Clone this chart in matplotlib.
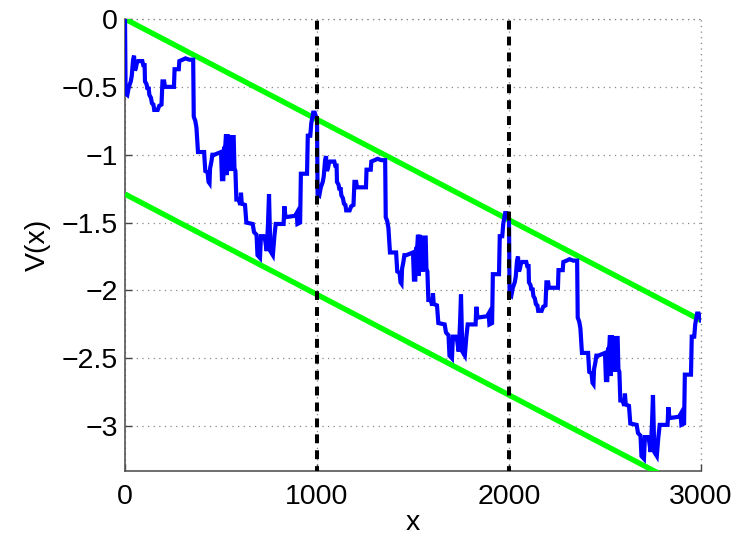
import matplotlib
matplotlib.use("Agg")
import matplotlib.pyplot as plt
import numpy as np

# One period of the potential profile (position within the period, value)
cell_x = [0, 3, 12, 20, 30, 35, 42, 47, 52, 57, 62, 68, 90, 95, 102, 104, 112, 118,
          122, 127, 135, 140, 148, 152, 170, 178, 190, 195, 204, 208, 255, 258, 280,
          283, 300, 315, 335, 355, 358, 366, 372, 380, 412, 418, 430, 435, 440, 443,
          450, 455, 465, 500, 505, 512, 516, 522, 526, 530, 534, 540, 545, 552, 556,
          566, 570, 575, 580, 592, 600, 604, 608, 625, 632, 665, 672, 685, 690, 703,
          708, 722, 730, 738, 745, 750, 757, 770, 778, 785, 826, 830, 836, 886, 894,
          898, 912, 916, 948, 952, 965, 970, 980, 988, 998]
cell_v = [0.00, -0.55, -0.56, -0.50, -0.46, -0.42, -0.30, -0.27, -0.38, -0.36, -0.32,
          -0.31, -0.31, -0.34, -0.34, -0.46, -0.48, -0.52, -0.50, -0.56, -0.58, -0.62,
          -0.63, -0.67, -0.67, -0.64, -0.63, -0.46, -0.46, -0.50, -0.50, -0.37, -0.37,
          -0.31, -0.30, -0.29, -0.30, -0.30, -0.72, -0.75, -0.80, -0.98, -0.98, -1.12,
          -1.13, -1.20, -1.21, -1.10, -1.05, -1.00, -1.00, -0.98, -1.18, -1.18, -0.95,
          -0.94, -0.85, -1.15, -0.85, -1.10, -0.86, -1.12, -0.87, -0.87, -1.10, -1.12,
          -1.33, -1.33, -1.37, -1.28, -1.36, -1.37, -1.50, -1.51, -1.57, -1.59, -1.74,
          -1.76, -1.60, -1.60, -1.63, -1.71, -1.50, -1.29, -1.71, -1.74, -1.60, -1.51,
          -1.51, -1.38, -1.46, -1.45, -1.43, -1.51, -1.50, -1.14, -1.14, -0.86, -0.86,
          -0.77, -0.69, -0.69, -0.73]

period = 1000
period_levels = [0.0, -0.74, -1.48]   # starting level of each period
end_point = (3000, -2.22)

# Bounding lines of the tilted profile
band_x = [0, 3000]
band_upper = [0.0, -2.22]
band_lower = [-1.29, -3.51]

dividers = [1000, 2000]

x_ticks = [0, 1000, 2000, 3000]
y_ticks = [-3, -2.5, -2, -1.5, -1, -0.5, 0]
y_tick_labels = ["\u22123", "\u22122.5", "\u22122", "\u22121.5", "\u22121", "\u22120.5", "0"]

plt.rcParams["font.family"] = ["Liberation Sans", "DejaVu Sans"]

fig = plt.figure(figsize=(7.42, 5.38), dpi=100)
ax = fig.add_axes([0.1685, 0.1245, 0.7762, 0.8402])

xs, vs = [], []
for k, lvl in enumerate(period_levels):
    xs.extend([k * period + c for c in cell_x])
    vs.extend([lvl + v for v in cell_v])
xs.append(end_point[0])
vs.append(end_point[1])

ax.plot(band_x, band_upper, color="#00ff00", lw=3.9, zorder=3, solid_capstyle="butt")
ax.plot(band_x, band_lower, color="#00ff00", lw=3.9, zorder=3, solid_capstyle="butt")
ax.plot(xs, vs, color="#0000ff", lw=3.0, zorder=4, solid_joinstyle="miter")
for d in dividers:
    ax.axvline(d, color="black", lw=2.9, linestyle=(1.0, (2.2, 1.75)), zorder=5)

ax.set_xlim(0, 3000)
ax.set_ylim(-3.33, 0)
ax.set_xticks(x_ticks)
ax.set_yticks(y_ticks)
ax.set_yticklabels(y_tick_labels)
ax.tick_params(direction="in", length=5, width=1, colors="#444444",
               labelcolor="black", labelsize=20.5)
ax.tick_params(axis="x", pad=9)
ax.tick_params(axis="y", pad=5)

ax.grid(True, color="#888888", linestyle=(0, (1, 3.5)), lw=0.9)
for s in ["top", "right"]:
    ax.spines[s].set_visible(False)
for s in ["left", "bottom"]:
    ax.spines[s].set_color("#555555")
    ax.spines[s].set_linewidth(1.2)
# grid lines at the open edges
ax.axhline(0, color="#888888", linestyle=(0, (1, 3.5)), lw=0.9, clip_on=False, zorder=1)
ax.axvline(3000, color="#888888", linestyle=(0, (1, 3.5)), lw=0.9, clip_on=False, zorder=1)

ax.set_xlabel("x", fontsize=20.5, labelpad=0)
ax.set_ylabel("V(x)", fontsize=20.5, labelpad=8)

fig.savefig("out.png", dpi=100)
